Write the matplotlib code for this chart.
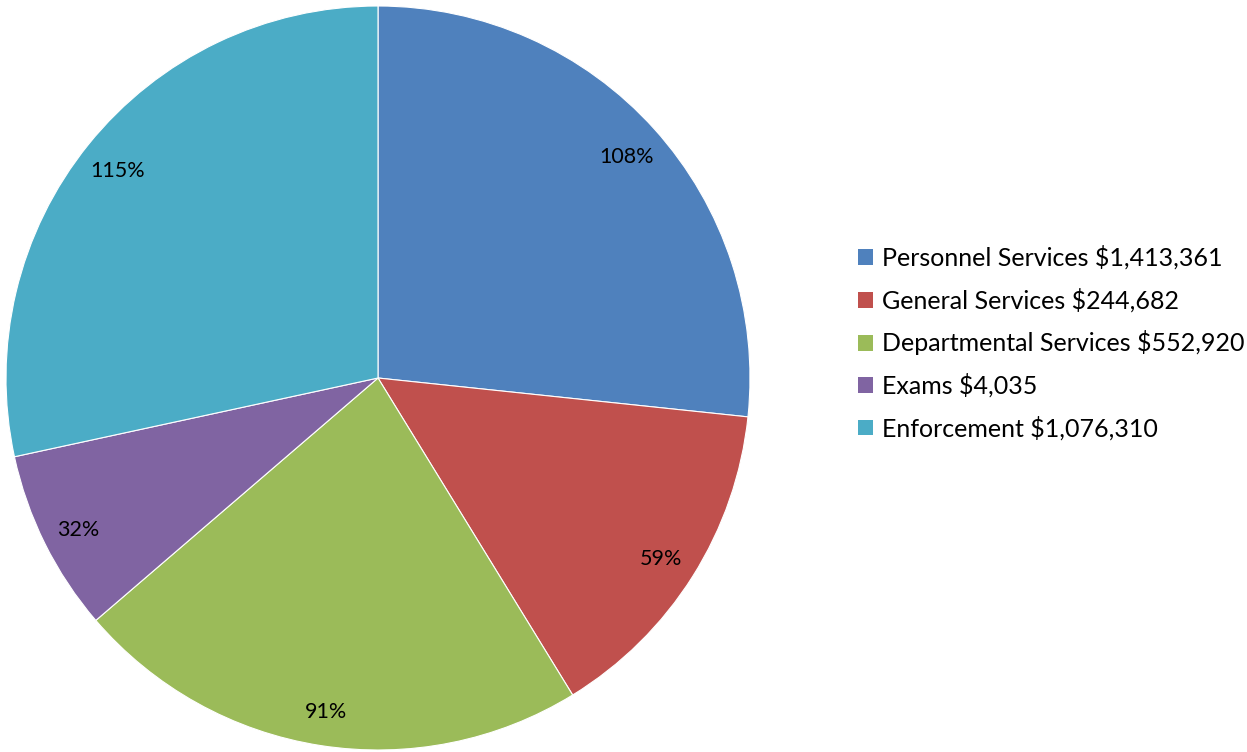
import numpy as np
import matplotlib.pyplot as plt
from matplotlib.patches import Patch

categories = ['Personnel Services', 'General Services', 'Departmental Services', 'Exams', 'Enforcement']
amounts = ['$1,413,361', '$244,682', '$552,920', '$4,035', '$1,076,310']
percents = [108, 59, 91, 32, 115]
colors = ['#4F81BD', '#C0504D', '#9BBB59', '#8064A2', '#4BACC6']

plt.rcParams['font.family'] = ['Lato', 'DejaVu Sans']

fig = plt.figure(figsize=(12.47, 7.52), dpi=100)
ax = fig.add_axes([378/1247 - 372/1247, (752 - 378 - 372)/752, 744/1247, 744/752])

wedges, _ = ax.pie(percents, colors=colors, startangle=90, counterclock=False,
                   radius=1.0, wedgeprops=dict(linewidth=0.8, edgecolor='white'))
ax.set_xlim(-1, 1)
ax.set_ylim(-1, 1)
ax.set_aspect('equal')

# percent labels placed inside the slice ends
for w, p in zip(wedges, percents):
    mid = np.deg2rad((w.theta1 + w.theta2) / 2)
    ax.text(0.9 * np.cos(mid), 0.9 * np.sin(mid) - 0.008, f'{p}%', ha='center', va='center',
            fontsize=15.5, color='black')

handles = [Patch(facecolor=c, edgecolor='none') for c in colors]
labels = [f'{c} {a}' for c, a in zip(categories, amounts)]
fig.legend(handles, labels, loc='center left', bbox_to_anchor=(858/1247, 1 - 343/752),
           frameon=False, fontsize=18, handlelength=0.6, handleheight=0.6,
           handletextpad=0.35, labelspacing=0.72, borderaxespad=0, borderpad=0)

fig.savefig('out.png', dpi=100)
